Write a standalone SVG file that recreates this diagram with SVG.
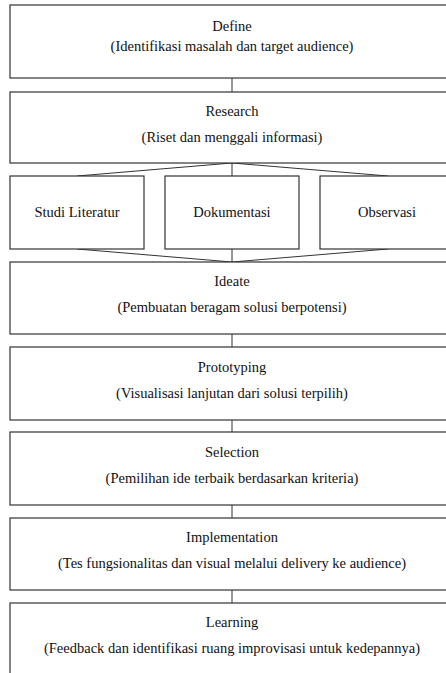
<svg xmlns="http://www.w3.org/2000/svg" width="446" height="673" viewBox="0 0 446 673">
<style>
.box{fill:#fff;stroke:#333;stroke-width:1.2}
.c{fill:none;stroke:#333;stroke-width:1}
</style>
<rect width="446" height="673" fill="#fff"/>
<g id="connectors">
<line class="c" x1="232" y1="78" x2="232" y2="92"/>
<line class="c" x1="232" y1="163" x2="232" y2="176"/>
<line class="c" x1="232" y1="163" x2="77" y2="176"/>
<line class="c" x1="232" y1="163" x2="388" y2="176"/>
<line class="c" x1="232" y1="249" x2="232" y2="262"/>
<line class="c" x1="77" y1="249" x2="232" y2="262"/>
<line class="c" x1="388" y1="249" x2="232" y2="262"/>
<line class="c" x1="232" y1="334" x2="232" y2="347"/>
<line class="c" x1="232" y1="420" x2="232" y2="432"/>
<line class="c" x1="232" y1="505" x2="232" y2="518"/>
<line class="c" x1="232" y1="590" x2="232" y2="603"/>
</g>
<g id="define">
<rect class="box" x="10" y="5" width="444" height="73"/>
<text x="232" y="31" font-family="Liberation Serif" font-size="14.5" fill="#111" text-anchor="middle">Define</text>
<text x="232" y="51" font-family="Liberation Serif" font-size="14.5" fill="#111" text-anchor="middle">(Identifikasi masalah dan target audience)</text>
</g>
<g id="research">
<rect class="box" x="10" y="92" width="444" height="71"/>
<text x="232" y="116" font-family="Liberation Serif" font-size="14.5" fill="#111" text-anchor="middle">Research</text>
<text x="232" y="142" font-family="Liberation Serif" font-size="14.5" fill="#111" text-anchor="middle">(Riset dan menggali informasi)</text>
</g>
<g id="studi">
<rect class="box" x="10" y="176" width="134" height="73"/>
<text x="77" y="217" font-family="Liberation Serif" font-size="14.5" fill="#111" text-anchor="middle">Studi Literatur</text>
</g>
<g id="dokumentasi">
<rect class="box" x="165" y="176" width="134" height="73"/>
<text x="232" y="217" font-family="Liberation Serif" font-size="14.5" fill="#111" text-anchor="middle">Dokumentasi</text>
</g>
<g id="observasi">
<rect class="box" x="320" y="176" width="134" height="73"/>
<text x="387" y="217" font-family="Liberation Serif" font-size="14.5" fill="#111" text-anchor="middle">Observasi</text>
</g>
<g id="ideate">
<rect class="box" x="10" y="262" width="444" height="72"/>
<text x="232" y="286" font-family="Liberation Serif" font-size="14.5" fill="#111" text-anchor="middle">Ideate</text>
<text x="232" y="312" font-family="Liberation Serif" font-size="14.5" fill="#111" text-anchor="middle">(Pembuatan beragam solusi berpotensi)</text>
</g>
<g id="prototyping">
<rect class="box" x="10" y="347" width="444" height="73"/>
<text x="232" y="372" font-family="Liberation Serif" font-size="14.5" fill="#111" text-anchor="middle">Prototyping</text>
<text x="232" y="398" font-family="Liberation Serif" font-size="14.5" fill="#111" text-anchor="middle">(Visualisasi lanjutan dari solusi terpilih)</text>
</g>
<g id="selection">
<rect class="box" x="10" y="432" width="444" height="73"/>
<text x="232" y="457" font-family="Liberation Serif" font-size="14.5" fill="#111" text-anchor="middle">Selection</text>
<text x="232" y="483" font-family="Liberation Serif" font-size="14.5" fill="#111" text-anchor="middle">(Pemilihan ide terbaik berdasarkan kriteria)</text>
</g>
<g id="implementation">
<rect class="box" x="10" y="518" width="444" height="72"/>
<text x="232" y="542" font-family="Liberation Serif" font-size="14.5" fill="#111" text-anchor="middle">Implementation</text>
<text x="232" y="568" font-family="Liberation Serif" font-size="14.5" fill="#111" text-anchor="middle">(Tes fungsionalitas dan visual melalui delivery ke audience)</text>
</g>
<g id="learning">
<rect class="box" x="10" y="603" width="444" height="80"/>
<text x="232" y="627" font-family="Liberation Serif" font-size="14.5" fill="#111" text-anchor="middle">Learning</text>
<text x="232" y="653" font-family="Liberation Serif" font-size="14.5" fill="#111" text-anchor="middle">(Feedback dan identifikasi ruang improvisasi untuk kedepannya)</text>
</g>
</svg>
